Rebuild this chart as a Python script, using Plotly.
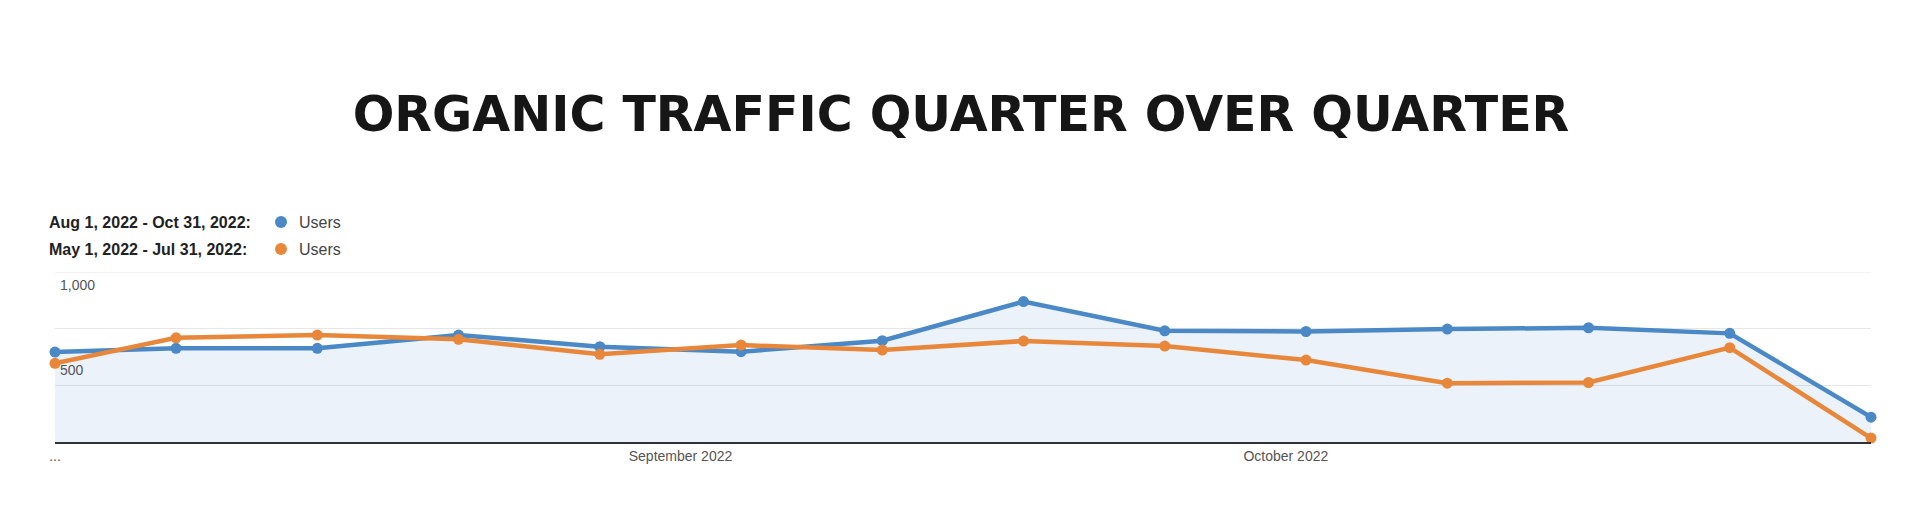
import plotly.graph_objects as go

# weekly users, GA-style comparison (current quarter vs previous quarter)
weeks = ['2022-08-01', '2022-08-07', '2022-08-14', '2022-08-21', '2022-08-28',
         '2022-09-04', '2022-09-11', '2022-09-18', '2022-09-25', '2022-10-02',
         '2022-10-09', '2022-10-16', '2022-10-23', '2022-10-30']
users_current = [529, 551, 551, 629, 561, 531, 596, 826, 654, 650, 664, 672, 639, 146]
users_previous = [463, 613, 629, 604, 516, 570, 541, 594, 564, 482, 346, 350, 555, 23]

x_tick_vals = ['2022-08-01', '2022-09-01', '2022-10-01']
x_tick_text = ['...', 'September 2022', 'October 2022']
grid_vals = [0, 333.33, 666.67]
y_max = 1000
y_labels = [1000, 500]

legend_periods = ['Aug 1, 2022 - Oct 31, 2022:', 'May 1, 2022 - Jul 31, 2022:']
legend_metric = 'Users'

blue = '#4a88c6'
orange = '#e8873a'

# the page body has an 8px margin, so the figure is drawn 8px in from the corner
OFF = 8
W, H = 1920 - OFF, 529 - OFF
L, R, T, B = 55 - OFF, 49, 272 - OFF, 87


def px(x):
    return (x - OFF - L) / (W - L - R)


def py(y):
    return (H - B - (y - OFF)) / (H - T - B)


fig = go.Figure()

fig.add_trace(go.Scatter(
    x=weeks, y=users_current, mode='lines+markers',
    line=dict(color=blue, width=4.5), marker=dict(size=11, color=blue),
    fill='tozeroy', fillcolor='rgba(74,136,198,0.11)', cliponaxis=False,
    name=legend_periods[0], showlegend=False
))
fig.add_trace(go.Scatter(
    x=weeks, y=users_previous, mode='lines+markers',
    line=dict(color=orange, width=4.5), marker=dict(size=11, color=orange),
    cliponaxis=False, name=legend_periods[1], showlegend=False
))

annotations = []
for v in y_labels:
    annotations.append(dict(
        x=0, xref='paper', y=v, yref='y', text=f'{v:,}', showarrow=False,
        xanchor='left', yanchor='top', xshift=3, yshift=-3,
        font=dict(family='Liberation Sans, Arial', size=14, color='#555555')
    ))

# top gridline sits on the edge of the plot, so draw it as a shape
shapes = [dict(
    type='line', xref='paper', yref='y', x0=0, x1=1, y0=y_max, y1=y_max,
    line=dict(color='#e6e6e6', width=1), layer='below'
)]
colors = [blue, orange]
for i, label in enumerate(legend_periods):
    yy = py(222 + i * 27)
    annotations.append(dict(
        x=px(47), xref='paper', y=yy, yref='paper', text=f'<b>{label}</b>',
        showarrow=False, xanchor='left', yanchor='middle',
        font=dict(family='Liberation Sans, Arial', size=16, color='#222222')
    ))
    annotations.append(dict(
        x=px(297), xref='paper', y=yy, yref='paper', text=legend_metric,
        showarrow=False, xanchor='left', yanchor='middle',
        font=dict(family='Liberation Sans, Arial', size=16, color='#444444')
    ))
    shapes.append(dict(
        type='circle', xref='paper', yref='paper', xsizemode='pixel', ysizemode='pixel',
        xanchor=px(281), yanchor=yy, x0=-6, x1=6, y0=-6, y1=6,
        fillcolor=colors[i], line=dict(width=0)
    ))

fig.update_layout(
    width=W, height=H,
    margin=dict(l=L, r=R, t=T, b=B),
    paper_bgcolor='white', plot_bgcolor='white',
    title=dict(
        text='<b>ORGANIC TRAFFIC QUARTER OVER QUARTER</b>',
        x=(961 - OFF) / W, xref='container', xanchor='center',
        y=1 - (114 - OFF) / H, yref='container', yanchor='middle',
        font=dict(family='DejaVu Sans', size=49, color='#161616')
    ),
    xaxis=dict(
        type='date', range=[weeks[0], weeks[-1]],
        tickvals=x_tick_vals, ticktext=x_tick_text,
        showgrid=False, zeroline=False, showline=True,
        linecolor='#333333', linewidth=1.5, ticks='',
        tickfont=dict(family='Liberation Sans, Arial', size=14, color='#555555')
    ),
    yaxis=dict(
        range=[0, y_max], tickvals=grid_vals, showticklabels=False,
        showgrid=True, gridcolor='#e6e6e6', gridwidth=1, zeroline=False
    ),
    annotations=annotations,
    shapes=shapes,
    hovermode='closest'
)

fig.write_html('out.html')
